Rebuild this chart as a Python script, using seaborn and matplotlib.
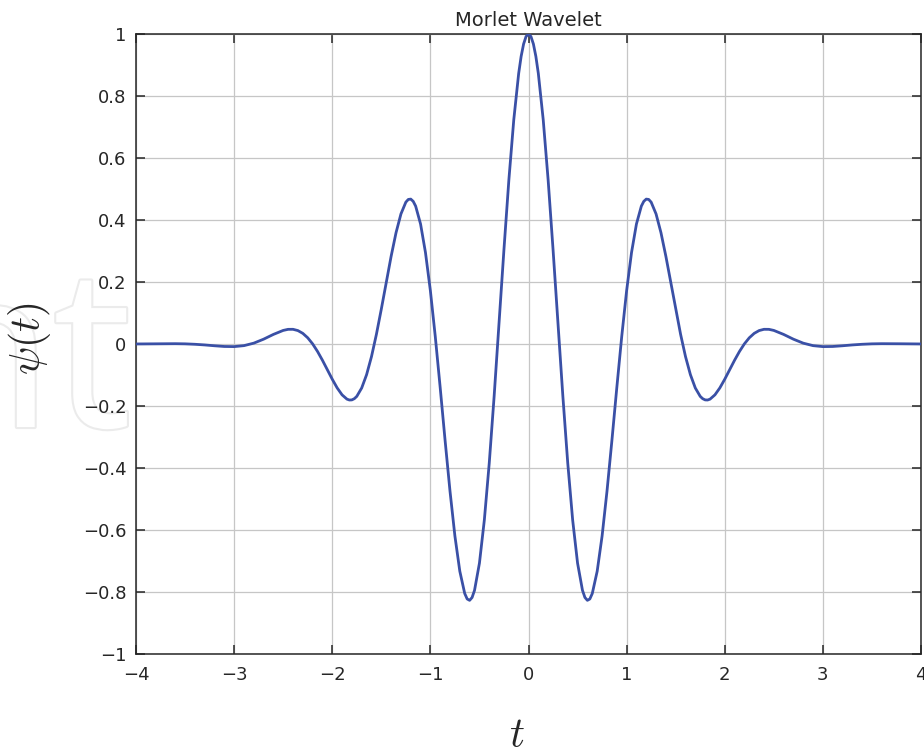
import matplotlib
matplotlib.use("Agg")
import matplotlib.pyplot as plt
import matplotlib.patheffects as pe
import pandas as pd
import seaborn as sns

# Morlet wavelet samples psi(t)
t_vals = [
    -4.0, -3.9, -3.8, -3.7, -3.6, -3.5, -3.4, -3.3, -3.2, -3.1, -3.0, -2.9,
    -2.8, -2.7, -2.6, -2.5, -2.45, -2.4, -2.35, -2.3, -2.25, -2.2, -2.15,
    -2.1, -2.05, -2.0, -1.95, -1.9, -1.85, -1.825, -1.8, -1.775, -1.75,
    -1.7, -1.65, -1.6, -1.55, -1.5, -1.45, -1.4, -1.35, -1.3, -1.25, -1.225,
    -1.2, -1.175, -1.15, -1.1, -1.05, -1.0, -0.95, -0.9, -0.85, -0.8, -0.75,
    -0.7, -0.65, -0.625, -0.6, -0.575, -0.55, -0.5, -0.45, -0.4, -0.35,
    -0.3, -0.25, -0.2, -0.15, -0.1, -0.075, -0.05, -0.025,
    0.0,
    0.025, 0.05, 0.075, 0.1, 0.15, 0.2, 0.25, 0.3, 0.35, 0.4, 0.45, 0.5,
    0.55, 0.575, 0.6, 0.625, 0.65, 0.7, 0.75, 0.8, 0.85, 0.9, 0.95, 1.0,
    1.05, 1.1, 1.15, 1.175, 1.2, 1.225, 1.25, 1.3, 1.35, 1.4, 1.45, 1.5,
    1.55, 1.6, 1.65, 1.7, 1.75, 1.775, 1.8, 1.825, 1.85, 1.9, 1.95, 2.0,
    2.05, 2.1, 2.15, 2.2, 2.25, 2.3, 2.35, 2.4, 2.45, 2.5, 2.6, 2.7, 2.8,
    2.9, 3.0, 3.1, 3.2, 3.3, 3.4, 3.5, 3.6, 3.7, 3.8, 3.9, 4.0,
]
psi_vals = [
    0.0001, 0.0004, 0.0007, 0.0010, 0.0010, 0.0005, -0.0009, -0.0030,
    -0.0057, -0.0080, -0.0084, -0.0053, 0.0027, 0.0155, 0.0309, 0.0438,
    0.0473, 0.0474, 0.0433, 0.0343, 0.0200, 0.0004, -0.0241, -0.0524,
    -0.0830, -0.1136, -0.1416, -0.1640, -0.1779, -0.1807, -0.1803, -0.1764,
    -0.1689, -0.1419, -0.0989, -0.0405, 0.0312, 0.1125, 0.1985, 0.2829,
    0.3590, 0.4195, 0.4576, 0.4663, 0.4674, 0.4602, 0.4447, 0.3870, 0.2951,
    0.1721, 0.0239, -0.1406, -0.3112, -0.4746, -0.6194, -0.7330, -0.8048,
    -0.8225, -0.8269, -0.8177, -0.7946, -0.7070, -0.5677, -0.3842, -0.1677,
    0.0676, 0.3056, 0.5296, 0.7235, 0.8732, 0.9279, 0.9677, 0.9919,
    1.0,
    0.9919, 0.9677, 0.9279, 0.8732, 0.7235, 0.5296, 0.3056, 0.0676,
    -0.1677, -0.3842, -0.5677, -0.7070, -0.7946, -0.8177, -0.8269, -0.8225,
    -0.8048, -0.7330, -0.6194, -0.4746, -0.3112, -0.1406, 0.0239, 0.1721,
    0.2951, 0.3870, 0.4447, 0.4602, 0.4674, 0.4663, 0.4576, 0.4195, 0.3590,
    0.2829, 0.1985, 0.1125, 0.0312, -0.0405, -0.0989, -0.1419, -0.1689,
    -0.1764, -0.1803, -0.1807, -0.1779, -0.1640, -0.1416, -0.1136, -0.0830,
    -0.0524, -0.0241, 0.0004, 0.0200, 0.0343, 0.0433, 0.0474, 0.0473,
    0.0438, 0.0309, 0.0155, 0.0027, -0.0053, -0.0084, -0.0080, -0.0057,
    -0.0030, -0.0009, 0.0005, 0.0010, 0.0010, 0.0007, 0.0004, 0.0001,
]

x_ticks = [-4, -3, -2, -1, 0, 1, 2, 3, 4]
x_tick_labels = ["\u22124", "\u22123", "\u22122", "\u22121", "0", "1", "2", "3", "4"]
y_ticks = [-1.0, -0.8, -0.6, -0.4, -0.2, 0.0, 0.2, 0.4, 0.6, 0.8, 1.0]
y_tick_labels = ["\u22121", "\u22120.8", "\u22120.6", "\u22120.4", "\u22120.2", "0",
                 "0.2", "0.4", "0.6", "0.8", "1"]

title = "Morlet Wavelet"

df = pd.DataFrame({"t": t_vals, "psi": psi_vals})

sns.set_theme(style="whitegrid")
plt.rcParams["font.family"] = ["DejaVu Sans"]
plt.rcParams["mathtext.fontset"] = "cm"

ink = "#262626"

fig = plt.figure(figsize=(9.24, 7.47), dpi=100)
fig.patch.set_facecolor("white")

# faint outlined lettering in the left margin, kept beneath everything else
fig.text(132 / 924, 1 - 427 / 747, "nt", ha="right", va="baseline",
         fontsize=160, family="Open Sans", color="white", zorder=-5,
         path_effects=[pe.withStroke(linewidth=3, foreground="#ebebeb")])

ax = fig.add_axes([136 / 924, 1 - 654 / 747, 785 / 924, 620 / 747])
ax.set_facecolor("white")

sns.lineplot(data=df, x="t", y="psi", ax=ax, sort=False, estimator=None,
             color="#3a50a6", linewidth=2.0, zorder=3)

ax.set_xlim(-4, 4)
ax.set_ylim(-1, 1)
ax.set_xticks(x_ticks)
ax.set_xticklabels(x_tick_labels)
ax.set_yticks(y_ticks)
ax.set_yticklabels(y_tick_labels)

ax.grid(True, color="#c6c6c6", linewidth=0.9)
for side in ["left", "right", "top", "bottom"]:
    ax.spines[side].set_visible(True)
    ax.spines[side].set_color(ink)
    ax.spines[side].set_linewidth(1.1)

ax.tick_params(axis="both", which="major", direction="in", length=6.5,
               width=1.1, color=ink, labelcolor=ink, labelsize=13,
               bottom=True, left=True, top=True, right=True)
ax.tick_params(axis="y", pad=7)
ax.tick_params(axis="x", pad=9)

ax.set_title(title, fontsize=14, color=ink, pad=6)

ax.set_xlabel(r"$t$", fontsize=30, color=ink)
ax.xaxis.set_label_coords((517 - 136) / 785, -0.097)
ax.set_ylabel(r"$\psi(t)$", fontsize=30, color=ink)
ax.yaxis.set_label_coords(-0.1057, 0.509)

fig.savefig("out.png", dpi=100, facecolor="white")
